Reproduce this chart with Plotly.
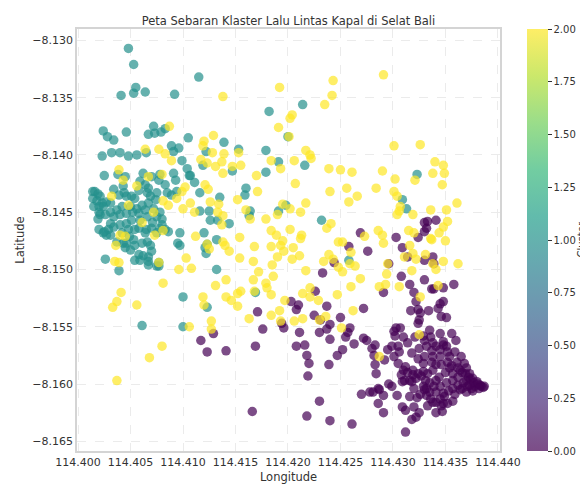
import plotly.graph_objects as go

# Cluster 0 (purple)
lon_c0 = [114.4269,114.4330,114.4333,114.4341,114.4332,114.4330,114.4324,114.4303,114.4258,114.4276,
          114.4244,114.4233,114.4226,114.4203,114.4210,114.4208,114.4171,114.4194,114.4196,114.4176,
          114.4169,114.4141,114.4211,114.4208,114.4216,114.4218,114.4220,114.4219,114.4225,114.4237,
          114.4231,114.4230,114.4237,114.4240,114.4250,114.4259,114.4257,114.4255,114.4240,114.4252,
          114.4247,114.4239,114.4263,114.4272,114.4272,114.4275,114.4117,114.4123,114.4129,114.4166,
          114.4230,114.4218,114.4240,114.4261,114.4270,114.4278,114.4281,114.4286,114.4291,114.4286,
          114.4296,114.4299,114.4304,114.4309,114.4312,114.4316,114.4320,114.4322,114.4318,114.4312,
          114.4308,114.4311,114.4316,114.4320,114.4319,114.4312,114.4283,114.4284,114.4282,114.4280,
          114.4309,114.4330,114.4338,114.4339,114.4314,114.4296,114.4308,114.4316,114.4330,114.4337,
          114.4339,114.4348,114.4358,114.4320,114.4322,114.4345,114.4348,114.4317,114.4324,114.4326,
          114.4334,114.4343,114.4346,114.4351,114.4325,114.4324,114.4291,114.4303,114.4301,114.4307,
          114.4302,114.4310,114.4299,114.4305,114.4321,114.4329,114.4330,114.4335,114.4336,114.4345,
          114.4338,114.4341,114.4345,114.4348,114.4351,114.4356,114.4360,114.4325,114.4318,114.4330,
          114.4338,114.4345,114.4354,114.4324,114.4329,114.4337,114.4341,114.4346,114.4354,114.4361,
          114.4368,114.4364,114.4357,114.4350,114.4338,114.4333,114.4329,114.4324,114.4319,114.4310,
          114.4318,114.4309,114.4287,114.4291,114.4329,114.4330,114.4332,114.4336,114.4341,114.4345,
          114.4351,114.4357,114.4362,114.4372,114.4373,114.4376,114.4380,114.4383,114.4384,114.4378,
          114.4375,114.4370,114.4364,114.4359,114.4357,114.4352,114.4347,114.4341,114.4348,114.4341,
          114.4335,114.4348,114.4367,114.4370,114.4283,
          114.4352,114.4356,114.4362,114.4366,114.4369,114.4374,114.4377,114.4381,114.4386,114.4387,
          114.4382,114.4376,114.4371,114.4366,114.4362,114.4357,114.4353,114.4349,114.4345,114.4338,
          114.4335,114.4331,114.4327,114.4322,114.4314,114.4305,114.4301,114.4295,114.4292,114.4306,
          114.4314,114.4332,114.4337,114.4348,114.4352,114.4359,114.4365,114.4370,114.4373,114.4344,
          114.4339,114.4332,114.4326,114.4323,114.4346,114.4341,114.4333,114.4325]
lat_c0 = [-8.1468,-8.1459,-8.1458,-8.1457,-8.1464,-8.1467,-8.1472,-8.1472,-8.1480,-8.1484,
          -8.1494,-8.1503,-8.1519,-8.1528,-8.1531,-8.1535,-8.1537,-8.1547,-8.1551,-8.1552,
          -8.1567,-8.1571,-8.1555,-8.1567,-8.1566,-8.1575,-8.1582,-8.1593,-8.1540,-8.1532,
          -8.1544,-8.1555,-8.1552,-8.1548,-8.1542,-8.1551,-8.1555,-8.1559,-8.1561,-8.1570,
          -8.1575,-8.1583,-8.1565,-8.1534,-8.1560,-8.1562,-8.1562,-8.1572,-8.1556,-8.1624,
          -8.1615,-8.1628,-8.1632,-8.1635,-8.1609,-8.1607,-8.1607,-8.1617,-8.1625,-8.1604,
          -8.1600,-8.1602,-8.1610,-8.1620,-8.1623,-8.1611,-8.1620,-8.1629,-8.1631,-8.1642,
          -8.1592,-8.1597,-8.1597,-8.1604,-8.1592,-8.1585,-8.1583,-8.1591,-8.1575,-8.1569,
          -8.1481,-8.1492,-8.1489,-8.1495,-8.1489,-8.1495,-8.1506,-8.1513,-8.1509,-8.1517,
          -8.1517,-8.1516,-8.1513,-8.1520,-8.1528,-8.1530,-8.1528,-8.1536,-8.1535,-8.1538,
          -8.1536,-8.1534,-8.1541,-8.1542,-8.1544,-8.1547,-8.1520,-8.1551,-8.1554,-8.1551,
          -8.1558,-8.1559,-8.1567,-8.1567,-8.1559,-8.1558,-8.1562,-8.1553,-8.1559,-8.1556,
          -8.1564,-8.1567,-8.1570,-8.1566,-8.1567,-8.1556,-8.1562,-8.1569,-8.1573,-8.1576,
          -8.1576,-8.1576,-8.1576,-8.1578,-8.1582,-8.1581,-8.1583,-8.1583,-8.1586,-8.1581,
          -8.1582,-8.1588,-8.1591,-8.1590,-8.1588,-8.1591,-8.1589,-8.1591,-8.1588,-8.1588,
          -8.1598,-8.1598,-8.1605,-8.1610,-8.1602,-8.1605,-8.1610,-8.1613,-8.1607,-8.1602,
          -8.1599,-8.1597,-8.1594,-8.1594,-8.1591,-8.1595,-8.1598,-8.1601,-8.1602,-8.1602,
          -8.1604,-8.1607,-8.1605,-8.1609,-8.1615,-8.1617,-8.1624,-8.1616,-8.1617,-8.1597,
          -8.1599,-8.1608,-8.1599,-8.1597,-8.1566,
          -8.1581,-8.1584,-8.1586,-8.1590,-8.1591,-8.1596,-8.1599,-8.1600,-8.1603,-8.1602,
          -8.1604,-8.1606,-8.1602,-8.1604,-8.1601,-8.1604,-8.1606,-8.1611,-8.1613,-8.1616,
          -8.1607,-8.1597,-8.1593,-8.1595,-8.1590,-8.1582,-8.1576,-8.1570,-8.1579,-8.1572,
          -8.1564,-8.1567,-8.1571,-8.1563,-8.1572,-8.1572,-8.1576,-8.1586,-8.1601,-8.1594,
          -8.1602,-8.1604,-8.1609,-8.1612,-8.1619,-8.1625,-8.1619,-8.1625]

# Cluster 1 (teal)
lon_c1 = [114.4048,114.4053,114.4055,114.4053,114.4041,114.4064,114.4092,114.4115,114.4024,114.4028,
          114.4034,114.4046,114.4072,114.4067,114.4073,114.4079,114.4083,114.4105,114.4089,114.4096,
          114.4139,114.4023,114.4032,114.4040,114.4048,114.4056,114.4065,114.4091,114.4099,114.4122,
          114.4119,114.4104,114.4107,114.4153,114.4179,114.4179,114.4191,114.4147,114.4160,114.4159,
          114.4135,114.4116,114.4125,114.4144,114.4133,114.4198,114.4191,114.4164,114.4163,114.4232,
          114.4214,114.4182,114.4200,114.4216,114.4323,114.4309,114.4313,114.4026,114.4039,114.4077,
          114.4100,114.4123,114.4061,114.4100,114.4132,114.4122,114.4121,114.4169,114.4097,114.4258,
          114.4120,114.4126,114.4132,114.4123,114.4116,114.4097,114.4095,
          114.4025,114.4038,114.4045,114.4062,114.4070,114.4078,114.4091,114.4093,114.4106,114.4111,
          114.4016,114.4019,114.4021,114.4023,114.4020,114.4024,114.4027,114.4031,114.4034,114.4039,
          114.4043,114.4044,114.4046,114.4051,114.4054,114.4058,114.4059,114.4064,114.4066,114.4067,
          114.4069,114.4074,114.4075,114.4077,114.4083,114.4085,114.4089,114.4094,114.4067,114.4061,
          114.4056,114.4050,114.4042,114.4037,114.4031,114.4021,114.4019,114.4026,114.4034,114.4040,
          114.4046,114.4052,114.4058,114.4064,114.4072,114.4078,114.4075,114.4080,114.4066,114.4059,
          114.4051,114.4046,114.4040,114.4031,114.4020,114.4025,114.4029,114.4031,114.4027,114.4024,
          114.4034,114.4042,114.4048,114.4054,114.4049,114.4053,114.4046,114.4043,114.4037,114.4045,
          114.4050,114.4054,114.4061,114.4066,114.4069,114.4070,114.4067,114.4062,114.4058,114.4054,
          114.4059,114.4067,114.4067,114.4075,114.4077,114.4064,114.4065,114.4070,114.4075,114.4078,
          114.4083,114.4086,114.4071,114.4080,114.4058,114.4014,114.4014,114.4015,114.4018,114.4020]
lat_c1 = [-8.1307,-8.1321,-8.1341,-8.1346,-8.1348,-8.1345,-8.1347,-8.1332,-8.1379,-8.1384,
          -8.1387,-8.1380,-8.1375,-8.1382,-8.1381,-8.1380,-8.1377,-8.1385,-8.1392,-8.1394,
          -8.1389,-8.1401,-8.1398,-8.1398,-8.1401,-8.1400,-8.1398,-8.1397,-8.1405,-8.1397,
          -8.1409,-8.1412,-8.1418,-8.1395,-8.1396,-8.1415,-8.1406,-8.1414,-8.1429,-8.1435,
          -8.1437,-8.1433,-8.1449,-8.1460,-8.1457,-8.1444,-8.1449,-8.1449,-8.1453,-8.1457,
          -8.1356,-8.1362,-8.1384,-8.1409,-8.1417,-8.1439,-8.1447,-8.1491,-8.1501,-8.1497,
          -8.1524,-8.1533,-8.1549,-8.1550,-8.1500,-8.1486,-8.1481,-8.1520,-8.1479,-8.1492,
          -8.1468,-8.1457,-8.1474,-8.1478,-8.1449,-8.1468,-8.1477,
          -8.1418,-8.1417,-8.1419,-8.1416,-8.1419,-8.1417,-8.1416,-8.1422,-8.1418,-8.1424,
          -8.1432,-8.1434,-8.1436,-8.1442,-8.1445,-8.1445,-8.1441,-8.1442,-8.1430,-8.1435,
          -8.1427,-8.1433,-8.1436,-8.1436,-8.1438,-8.1431,-8.1423,-8.1426,-8.1433,-8.1429,
          -8.1436,-8.1439,-8.1433,-8.1422,-8.1426,-8.1433,-8.1435,-8.1432,-8.1442,-8.1444,
          -8.1447,-8.1445,-8.1445,-8.1448,-8.1450,-8.1452,-8.1456,-8.1452,-8.1454,-8.1452,
          -8.1451,-8.1450,-8.1451,-8.1448,-8.1447,-8.1450,-8.1454,-8.1456,-8.1454,-8.1457,
          -8.1457,-8.1460,-8.1461,-8.1460,-8.1465,-8.1467,-8.1465,-8.1470,-8.1470,-8.1468,
          -8.1463,-8.1468,-8.1465,-8.1465,-8.1471,-8.1474,-8.1477,-8.1477,-8.1476,-8.1481,
          -8.1483,-8.1479,-8.1477,-8.1476,-8.1479,-8.1484,-8.1489,-8.1488,-8.1487,-8.1492,
          -8.1492,-8.1493,-8.1496,-8.1497,-8.1494,-8.1468,-8.1465,-8.1464,-8.1468,-8.1464,
          -8.1465,-8.1467,-8.1459,-8.1461,-8.1464,-8.1432,-8.1438,-8.1445,-8.1440,-8.1450]

# Cluster 2 (yellow)
lon_c2 = [114.4138,114.4192,114.4243,114.4242,114.4235,114.4204,114.4202,114.4191,114.4201,114.4139,
          114.4137,114.4147,114.4155,114.4138,114.4153,114.4184,114.4193,114.4206,114.4217,114.4221,
          114.4222,114.4239,114.4250,114.4261,114.4170,114.4207,114.4256,114.4240,114.4266,114.4258,
          114.4171,114.4152,114.4160,114.4195,114.4202,114.4217,114.4212,114.4190,114.4179,114.4138,
          114.4137,114.4164,114.4241,114.4237,114.4184,114.4189,114.4202,114.4213,114.4154,114.4273,
          114.4291,114.4301,114.4326,114.4340,114.4348,114.4338,114.4349,114.4290,114.4302,114.4321,
          114.4347,114.4284,114.4301,114.4304,114.4307,114.4306,114.4304,114.4319,114.4336,114.4351,
          114.4361,114.4352,114.4348,114.4344,114.4315,114.4320,114.4286,114.4290,114.4336,114.4138,
          114.4140,114.4144,114.4168,114.4184,114.4193,114.4195,114.4196,114.4205,114.4212,114.4211,
          114.4204,114.4190,114.4185,114.4154,114.4167,114.4172,114.4167,114.4141,114.4186,114.4179,
          114.4180,114.4168,114.4155,114.4152,114.4184,114.4141,114.4146,114.4152,114.4163,114.4184,
          114.4192,114.4197,114.4193,114.4206,114.4214,114.4214,114.4221,114.4221,114.4229,114.4217,
          114.4234,114.4239,114.4243,114.4248,114.4252,114.4260,114.4259,114.4264,114.4248,114.4252,
          114.4269,114.4260,114.4247,114.4262,114.4230,114.4236,114.4251,114.4035,114.4039,114.4033,
          114.4037,114.4041,114.4056,114.4081,114.4096,114.4103,114.4108,114.4119,114.4120,114.4127,
          114.4127,114.4106,114.4080,114.4068,114.4037,114.4131,114.4077,114.4123,
          114.4043,114.4056,114.4067,114.4080,114.4032,114.4048,114.4072,114.4061,114.4040,114.4045,
          114.4036,114.4073,114.4081,114.4081,114.4086,114.4094,114.4099,114.4102,114.4107,114.4100,
          114.4111,114.4121,114.4124,114.4126,114.4134,114.4133,114.4112,114.4125,
          114.4087,114.4120,114.4129,114.4119,114.4128,114.4064,114.4077,114.4083,114.4089,114.4117,
          114.4131,114.4039,114.4123,
          114.4291,114.4316,114.4319,114.4311,114.4322,114.4331,114.4337,114.4350,114.4348,114.4362,
          114.4338,114.4341,114.4318,114.4295,114.4294,114.4293,114.4287,114.4306,114.4326,114.4343,
          114.4325,114.4287]
lat_c2 = [-8.1349,-8.1341,-8.1335,-8.1348,-8.1356,-8.1365,-8.1368,-8.1376,-8.1384,-8.1399,
          -8.1406,-8.1410,-8.1409,-8.1416,-8.1398,-8.1405,-8.1412,-8.1405,-8.1396,-8.1400,
          -8.1403,-8.1412,-8.1413,-8.1415,-8.1418,-8.1425,-8.1429,-8.1432,-8.1436,-8.1441,
          -8.1432,-8.1439,-8.1448,-8.1443,-8.1447,-8.1442,-8.1450,-8.1452,-8.1456,-8.1453,
          -8.1461,-8.1456,-8.1460,-8.1464,-8.1466,-8.1470,-8.1465,-8.1470,-8.1472,-8.1471,
          -8.1330,-8.1392,-8.1391,-8.1406,-8.1409,-8.1416,-8.1416,-8.1414,-8.1421,-8.1422,
          -8.1426,-8.1429,-8.1432,-8.1436,-8.1445,-8.1449,-8.1452,-8.1452,-8.1448,-8.1448,
          -8.1442,-8.1458,-8.1463,-8.1468,-8.1466,-8.1468,-8.1466,-8.1470,-8.1473,-8.1476,
          -8.1479,-8.1484,-8.1480,-8.1480,-8.1479,-8.1475,-8.1484,-8.1481,-8.1473,-8.1488,
          -8.1491,-8.1489,-8.1496,-8.1490,-8.1493,-8.1502,-8.1509,-8.1509,-8.1506,-8.1512,
          -8.1516,-8.1519,-8.1519,-8.1521,-8.1522,-8.1524,-8.1527,-8.1532,-8.1543,-8.1540,
          -8.1536,-8.1527,-8.1545,-8.1545,-8.1543,-8.1521,-8.1516,-8.1524,-8.1527,-8.1501,
          -8.1493,-8.1487,-8.1491,-8.1476,-8.1476,-8.1485,-8.1495,-8.1497,-8.1498,-8.1502,
          -8.1508,-8.1515,-8.1522,-8.1536,-8.1544,-8.1541,-8.1551,-8.1493,-8.1494,-8.1533,
          -8.1528,-8.1520,-8.1531,-8.1512,-8.1500,-8.1490,-8.1499,-8.1524,-8.1531,-8.1545,
          -8.1552,-8.1550,-8.1567,-8.1577,-8.1597,-8.1514,-8.1494,-8.1478,
          -8.1422,-8.1427,-8.1419,-8.1417,-8.1436,-8.1444,-8.1450,-8.1459,-8.1470,-8.1471,
          -8.1479,-8.1470,-8.1466,-8.1440,-8.1444,-8.1438,-8.1432,-8.1428,-8.1442,-8.1447,
          -8.1450,-8.1426,-8.1430,-8.1441,-8.1443,-8.1450,-8.1471,-8.1482,
          -8.1375,-8.1388,-8.1383,-8.1392,-8.1398,-8.1395,-8.1395,-8.1399,-8.1405,-8.1404,
          -8.1410,-8.1413,-8.1407,
          -8.1477,-8.1479,-8.1486,-8.1489,-8.1491,-8.1487,-8.1474,-8.1475,-8.1493,-8.1495,
          -8.1495,-8.1500,-8.1501,-8.1495,-8.1504,-8.1513,-8.1515,-8.1515,-8.1524,-8.1514,
          -8.1557,-8.1576]

x_ticks = [114.400, 114.405, 114.410, 114.415, 114.420, 114.425, 114.430, 114.435, 114.440]
y_ticks = [-8.130, -8.135, -8.140, -8.145, -8.150, -8.155, -8.160, -8.165]
cbar_ticks = [0.0, 0.25, 0.5, 0.75, 1.0, 1.25, 1.5, 1.75, 2.0]

lons = lon_c0 + lon_c1 + lon_c2
lats = lat_c0 + lat_c1 + lat_c2
clusters = [0] * len(lon_c0) + [1] * len(lon_c1) + [2] * len(lon_c2)

viridis = ["#440154", "#482878", "#3e4989", "#31688e", "#26828e",
           "#1f9e89", "#35b779", "#6ece58", "#b5de2b", "#fde725"]


def faded(h, a=0.7):
    r, g, b = int(h[1:3], 16), int(h[3:5], 16), int(h[5:7], 16)
    return "rgb(%d,%d,%d)" % tuple(round(a * c + (1 - a) * 255) for c in (r, g, b))


scale = [[i / (len(viridis) - 1), c] for i, c in enumerate(viridis)]
faded_scale = [[i / (len(viridis) - 1), faded(c)] for i, c in enumerate(viridis)]

font_family = "DejaVu Sans"
text_color = "#333333"

# The page places the figure 8px in from the top-left corner of the window,
# so the figure is sized to end at the window edge.
W, H = 580, 476
L, T, PW, PH = 69, 21, 423, 422

fig = go.Figure()
fig.add_trace(go.Scatter(
    x=lons, y=lats, mode="markers",
    marker=dict(size=9.5, color=clusters, colorscale=scale, cmin=0, cmax=2,
                opacity=0.7, line=dict(width=0), showscale=False),
    showlegend=False, hoverinfo="skip",
))
fig.add_trace(go.Scatter(
    x=[None], y=[None], mode="markers",
    marker=dict(size=1, color=[0], colorscale=faded_scale, cmin=0, cmax=2, showscale=True,
                colorbar=dict(
                    x=(519 - L) / PW, xanchor="left", xpad=0, ypad=0,
                    y=0.5, yanchor="middle", len=1, lenmode="fraction",
                    thickness=21, thicknessmode="pixels", outlinewidth=0,
                    tickvals=cbar_ticks, tickformat=".2f", ticks="outside",
                    ticklen=4, tickwidth=1, tickcolor=text_color,
                    tickfont=dict(family=font_family, size=10, color=text_color),
                )),
    showlegend=False, hoverinfo="skip",
))

axis_common = dict(
    showgrid=True, gridcolor="#ebebeb", griddash="dash", gridwidth=1,
    showline=True, mirror=True, linecolor="#d4d4d4", linewidth=1.5,
    zeroline=False, ticks="", tickformat=".3f", automargin=False,
    tickfont=dict(family=font_family, size=11, color=text_color),
)

fig.update_layout(
    width=W, height=H,
    margin=dict(l=L, r=W - L - PW, t=T, b=H - T - PH, pad=0, autoexpand=False),
    paper_bgcolor="white", plot_bgcolor="white",
    font=dict(family=font_family, color=text_color),
    title=dict(text="Peta Sebaran Klaster Lalu Lintas Kapal di Selat Bali",
               x=0.5, xref="paper", xanchor="center",
               y=1 - 13 / H, yref="container", yanchor="middle",
               font=dict(family=font_family, size=11.5, color=text_color)),
    xaxis=dict(axis_common, range=[114.3999, 114.4402], tickvals=x_ticks,
               title=dict(text="Longitude", standoff=7,
                          font=dict(family=font_family, size=11.5, color=text_color))),
    yaxis=dict(axis_common, range=[-8.16585, -8.1290], tickvals=y_ticks,
               title=dict(text="Latitude", standoff=5,
                          font=dict(family=font_family, size=11.5, color=text_color))),
    annotations=[dict(text="Cluster", textangle=-90, x=(579 - L) / PW, xref="paper",
                      xanchor="right", y=0.5, yref="paper", yanchor="middle",
                      showarrow=False, borderpad=0,
                      font=dict(family=font_family, size=10, color=text_color))],
)

fig.write_html("out.html")
